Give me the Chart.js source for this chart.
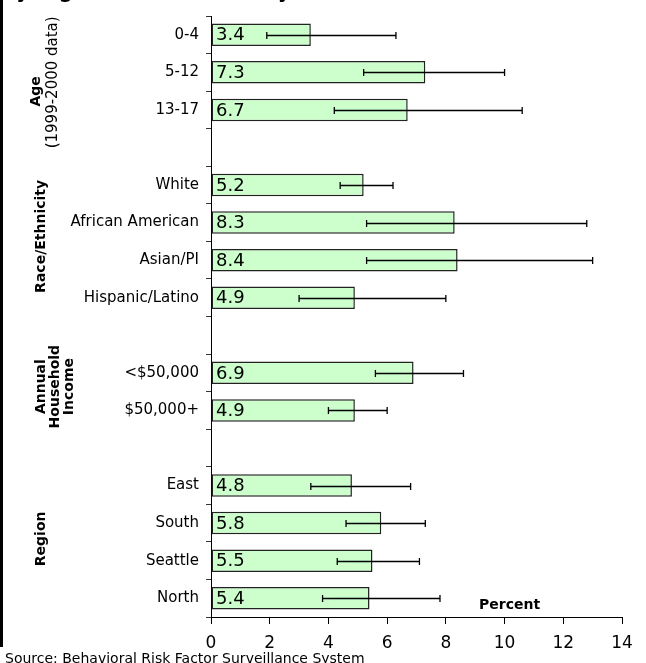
<!DOCTYPE html>
<html>
<head>
<meta charset="utf-8">
<script src="https://cdn.jsdelivr.net/npm/chart.js@4/dist/chart.umd.min.js"></script>
<style>
  html, body { margin: 0; padding: 0; background: #fff; overflow: hidden; }
  #wrap { position: relative; width: 646px; height: 663px; }
  #edge { position: absolute; left: 0; top: 0; width: 3px; height: 647px; background: #000; }
</style>
</head>
<body>
<div id="wrap">
  <canvas id="c" width="646" height="663"></canvas>
  <div id="edge"></div>
</div>
<script>
// ---- data ----
const categories = ['0-4', '5-12', '13-17', '', 'White', 'African American', 'Asian/PI', 'Hispanic/Latino', '', '<$50,000', '$50,000+', '', 'East', 'South', 'Seattle', 'North'];
const values = [3.4, 7.3, 6.7, null, 5.2, 8.3, 8.4, 4.9, null, 6.9, 4.9, null, 4.8, 5.8, 5.5, 5.4];
const lowerCI = [1.9, 5.2, 4.2, null, 4.4, 5.3, 5.3, 3.0, null, 5.6, 4.0, null, 3.4, 4.6, 4.3, 3.8];
const upperCI = [6.3, 10.0, 10.6, null, 6.2, 12.8, 13.0, 8.0, null, 8.6, 6.0, null, 6.8, 7.3, 7.1, 7.8];
const xTicks = [0, 2, 4, 6, 8, 10, 12, 14];
const groupNames = [['Age'], ['Race/Ethnicity'], ['Annual', 'Household', 'Income'], ['Region']];
const groupSubtitles = ['(1999-2000 data)', '', '', ''];
const groupFirst = [0, 4, 9, 12];
const groupLast = [2, 7, 10, 15];
const axisTitle = 'Percent';
const sourceText = 'Source: Behavioral Risk Factor Surveillance System';
const titleText = 'Asthma by Age, Race/Ethnicity, Household Income and Region';

const FONT = '"DejaVu Sans", Verdana, sans-serif';

const overlay = {
  id: 'overlay',
  afterDatasetsDraw(chart) {
    const ctx = chart.ctx;
    const xs = chart.scales.x;
    const meta = chart.getDatasetMeta(0);
    ctx.save();
    // value labels
    ctx.fillStyle = '#000';
    ctx.font = '18px ' + FONT;
    ctx.textAlign = 'left';
    ctx.textBaseline = 'middle';
    values.forEach((v, i) => {
      if (v === null) return;
      const y = meta.data[i].y;
      ctx.fillText(v.toFixed(1), xs.getPixelForValue(0) + 5, y + 1);
    });
    // error bars
    ctx.strokeStyle = '#000';
    ctx.lineWidth = 1.3;
    values.forEach((v, i) => {
      if (v === null) return;
      const y = Math.round(meta.data[i].y) + 0.5;
      const x1 = xs.getPixelForValue(lowerCI[i]);
      const x2 = xs.getPixelForValue(upperCI[i]);
      ctx.beginPath();
      ctx.moveTo(x1, y); ctx.lineTo(x2, y);
      ctx.moveTo(x1, y - 3.5); ctx.lineTo(x1, y + 3.5);
      ctx.moveTo(x2, y - 3.5); ctx.lineTo(x2, y + 3.5);
      ctx.stroke();
    });
    ctx.restore();
  },
  afterDraw(chart) {
    const ctx = chart.ctx;
    const ys = chart.scales.y;
    ctx.save();
    ctx.fillStyle = '#000';
    // group labels (rotated)
    const yOffsets = [19, -5, -5, -3];
    const lineX = [[36], [41], [41, 55, 69], [41]];
    groupNames.forEach((lines, g) => {
      const yc = (ys.getPixelForValue(groupFirst[g]) + ys.getPixelForValue(groupLast[g])) / 2 + yOffsets[g];
      lines.forEach((t, k) => {
        ctx.save();
        ctx.translate(lineX[g][k], yc);
        ctx.rotate(-Math.PI / 2);
        ctx.font = 'bold 14px ' + FONT;
        ctx.textAlign = 'center';
        ctx.textBaseline = 'middle';
        ctx.fillText(t, 0, 0);
        ctx.restore();
      });
      if (groupSubtitles[g]) {
        ctx.save();
        ctx.translate(53, yc - 9);
        ctx.rotate(-Math.PI / 2);
        ctx.font = '15px ' + FONT;
        ctx.textAlign = 'center';
        ctx.textBaseline = 'middle';
        ctx.fillText(groupSubtitles[g], 0, 0);
        ctx.restore();
      }
    });
    // axis title
    ctx.font = 'bold 14px ' + FONT;
    ctx.textAlign = 'left';
    ctx.textBaseline = 'alphabetic';
    ctx.fillText(axisTitle, 479, 609);
    // source (cut off at the bottom edge, as in the reference)
    ctx.font = '14px ' + FONT;
    ctx.textBaseline = 'alphabetic';
    ctx.fillText(sourceText, 5, 662.5);
    // title (cut off at the top edge, as in the reference)
    ctx.font = '26px ' + FONT;
    ctx.textBaseline = 'alphabetic';
    const pre = titleText.slice(0, titleText.indexOf('Age'));
    const preW = ctx.measureText(pre).width;
    ctx.fillText(titleText, 40 - preW, -4);
    ctx.restore();
  }
};

new Chart(document.getElementById('c'), {
  type: 'bar',
  data: {
    labels: categories,
    datasets: [{
      data: values,
      backgroundColor: '#ccffcc',
      borderColor: '#222',
      borderWidth: 1.5,
      borderSkipped: false,
      barPercentage: 0.6,
      categoryPercentage: 1.0
    }]
  },
  options: {
    indexAxis: 'y',
    responsive: false,
    animation: false,
    devicePixelRatio: 1,
    layout: { padding: { top: 12, right: 24, bottom: 0, left: 0 } },
    plugins: { legend: { display: false }, tooltip: { enabled: false } },
    scales: {
      x: {
        min: 0, max: 14,
        afterFit(s) { s.height = 46; },
        afterBuildTicks(s) { s.ticks = xTicks.map(v => ({ value: v })); },
        grid: { drawOnChartArea: false, tickLength: 7, color: '#000' },
        border: { color: '#000', width: 1 },
        ticks: { color: '#000', font: { family: FONT, size: 17 }, padding: 9, maxRotation: 0 }
      },
      y: {
        afterFit(s) { s.width = 211; },
        grid: { drawOnChartArea: false, tickLength: 5, color: '#333', offset: true },
        border: { color: '#000', width: 1 },
        ticks: { color: '#000', font: { family: FONT, size: 15 }, padding: 7, autoSkip: false }
      }
    }
  },
  plugins: [overlay]
});
</script>
</body>
</html>
